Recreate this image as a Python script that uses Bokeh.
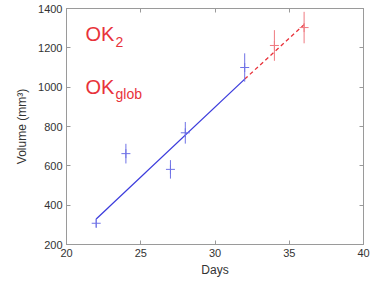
from bokeh.plotting import figure
from bokeh.models import Range1d, LinearAxis, Label, FixedTicker, CustomJSTickFormatter
from bokeh.embed import file_html
from bokeh.resources import INLINE

# --- data ---
days = [22, 24, 27, 28, 32]
volume = [308, 662, 582, 768, 1100]
err = [22, 50, 47, 55, 72]

pred_days = [34, 36]
pred_volume = [1212, 1303]
pred_err = [78, 80]

fit_x = [22, 32]
fit_y = [330, 1041]
ext_x = [32, 36]
ext_y = [1041, 1318]

x_ticks = [20, 25, 30, 35, 40]
y_ticks = [200, 400, 600, 800, 1000, 1200, 1400]

BLUE = "#3b3bdc"
BLUE_PT = "#6f72e6"
RED = "#e8323a"
RED_PT = "#ef7a80"
FONT = "Liberation Sans"

p = figure(width=373, height=281, output_backend="svg", toolbar_location=None,
           x_range=Range1d(20, 40), y_range=Range1d(200, 1400),
           min_border_left=66, min_border_right=10, min_border_top=8, min_border_bottom=37)
p.grid.visible = False
p.outline_line_color = "#9a9a9a"
p.background_fill_color = "white"
p.border_fill_color = "white"

for ax in (p.xaxis[0], p.yaxis[0]):
    ax.major_tick_in = 4
    ax.major_tick_out = 0
    ax.minor_tick_in = 0
    ax.minor_tick_out = 0
    ax.axis_line_color = "#9a9a9a"
    ax.major_tick_line_color = "#9a9a9a"
    ax.major_label_text_font = FONT
    ax.major_label_text_font_size = "11px"
    ax.major_label_text_color = "#333333"
    ax.axis_label_text_font = FONT
    ax.axis_label_text_font_size = "12px"
    ax.axis_label_text_font_style = "normal"
    ax.axis_label_text_color = "#333333"

p.xaxis[0].ticker = FixedTicker(ticks=x_ticks)
p.yaxis[0].ticker = FixedTicker(ticks=y_ticks)
p.xaxis[0].axis_label = "Days"
p.yaxis[0].axis_label = "Volume (mm³)"
p.xaxis[0].major_label_standoff = 4
p.xaxis[0].axis_label_standoff = 3
p.yaxis[0].major_label_standoff = 4
p.yaxis[0].axis_label_standoff = 6

# top/right axes with inward ticks, no labels
for loc, tick in (("above", x_ticks), ("right", y_ticks)):
    a = LinearAxis(ticker=FixedTicker(ticks=tick),
                   formatter=CustomJSTickFormatter(code="return ''"))
    a.major_tick_in = 4
    a.major_tick_out = 0
    a.minor_tick_in = 0
    a.minor_tick_out = 0
    a.axis_line_color = "#9a9a9a"
    a.major_tick_line_color = "#9a9a9a"
    a.major_label_standoff = 0
    p.add_layout(a, loc)

# fit lines
p.line(fit_x, fit_y, line_color=BLUE, line_width=1.3)
p.line(ext_x, ext_y, line_color=RED, line_width=1.3, line_dash="4 3")

# error bars + markers
p.segment(x0=days, x1=days, y0=[v - e for v, e in zip(volume, err)],
          y1=[v + e for v, e in zip(volume, err)], line_color=BLUE_PT, line_width=1)
p.scatter(days, volume, marker="cross", size=9, line_color=BLUE_PT, line_width=1)
p.segment(x0=pred_days, x1=pred_days, y0=[v - e for v, e in zip(pred_volume, pred_err)],
          y1=[v + e for v, e in zip(pred_volume, pred_err)], line_color=RED_PT, line_width=1)
p.scatter(pred_days, pred_volume, marker="cross", size=9, line_color=RED_PT, line_width=1)

# labels
def add_label(x, y, txt, size, dx=0):
    p.add_layout(Label(x=x, y=y, x_offset=dx, text=txt, text_font=FONT, text_font_size=size,
                       text_color=RED, text_baseline="middle", text_align="left"))

add_label(21.28, 1268, "OK", "20px")
add_label(21.28, 1232, "2", "14px", dx=30)
add_label(21.28, 1003, "OK", "20px")
add_label(21.28, 967, "glob", "14px", dx=30)

open("out.html", "w").write(file_html(p, INLINE))
